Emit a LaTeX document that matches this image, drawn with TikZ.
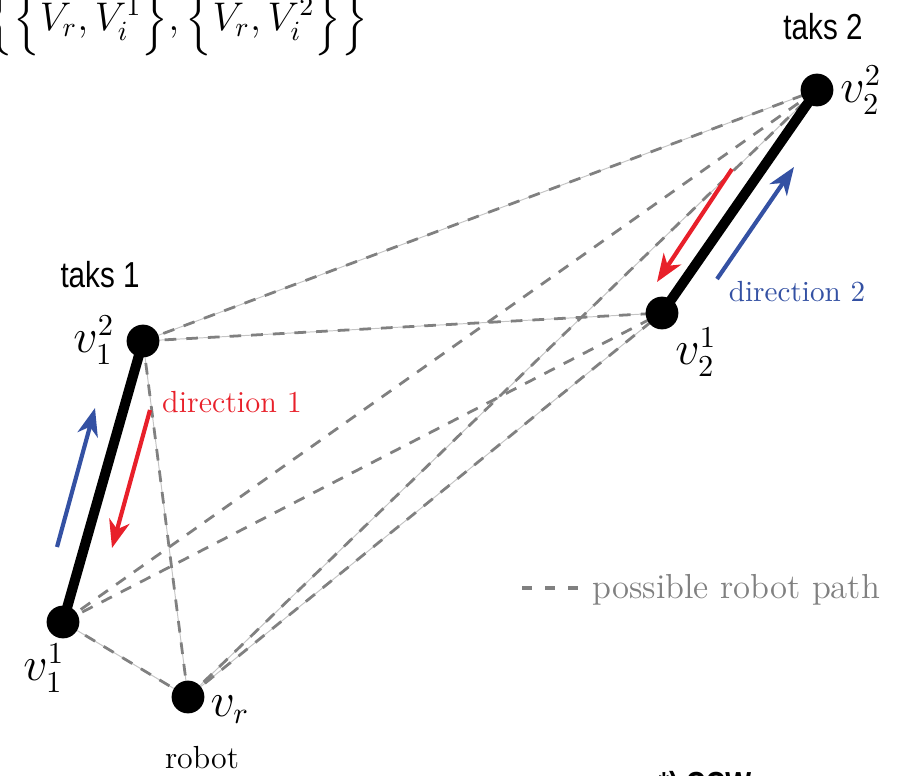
\documentclass[tikz,border=0pt]{standalone}
\usepackage{fontspec}
\usepackage{amsmath}
\usetikzlibrary{arrows.meta,backgrounds}
\newfontfamily\condfont[FakeStretch=0.82]{Liberation Sans}
\definecolor{dirred}{HTML}{E8202A}
\definecolor{dirblue}{HTML}{3451A3}
\definecolor{pathgray}{HTML}{808080}
\definecolor{thingray}{HTML}{C4C4C4}
\tikzset{
  vtx/.style={circle,fill=black,inner sep=0pt,minimum size=11.8pt},
  vlabel/.style={inner sep=0pt,font=\fontsize{16}{18}\selectfont},
  tasklabel/.style={inner sep=0pt,font=\condfont\fontsize{13}{15}\selectfont},
  taskbar/.style={line width=3.6pt,black},
  thinline/.style={thingray,line width=0.35pt},
  dashline/.style={pathgray,line width=1pt,dash pattern=on 4.2pt off 3.6pt},
  dirarrow/.style={line width=1.5pt,-{Stealth[length=10pt,width=7.5pt,inset=3pt]}},
}
\begin{document}
\begin{tikzpicture}[x=0.36pt,y=-0.36pt]
\useasboundingbox (0,0) rectangle (903,776);
% vertices
\node[vtx] (v22) at (817,90) {};
\node[vtx] (v21) at (662,313) {};
\node[vtx] (v12) at (143,341) {};
\node[vtx] (v11) at (63,622) {};
\node[vtx] (vr) at (188,697) {};
% connectors behind the vertices
\begin{pgfonlayer}{background}
  \foreach \a/\b in {vr/v11, vr/v12, vr/v21, vr/v22, v12/v21, v12/v22} {
    \draw[thinline] (\a.center) -- (\b.center);
    \draw[dashline] (\a.center) -- (\b.center);
  }
  \foreach \a/\b in {v11/v21, v11/v22} {
    \draw[dashline] (\a.center) -- (\b.center);
  }
  \draw[taskbar] (v11.center) -- (v12.center);
  \draw[taskbar] (v21.center) -- (v22.center);
\end{pgfonlayer}
% vertex labels
\node[vlabel] (l22) at (861,90) {$v_2^2$};
\node[vlabel] (l21) at (696,352) {$v_2^1$};
\node[vlabel] (l12) at (94,340) {$v_1^2$};
\node[vlabel] (l11) at (44,668) {$v_1^1$};
\node[vlabel] (lr) at (230,710) {$v_r$};
\node[inner sep=0pt,font=\fontsize{11.5}{13}\selectfont,anchor=base] (robot) at (202,768) {robot};
% task labels
\node[tasklabel] (t1) at (100,275) {taks 1};
\node[tasklabel] (t2) at (823,27) {taks 2};
% direction arrows
\coordinate (b1s) at (57,547); \coordinate (b1e) at (95,408);
\coordinate (r1s) at (150,410); \coordinate (r1e) at (112,548);
\coordinate (r2s) at (732,169); \coordinate (r2e) at (657,282);
\coordinate (b2s) at (717,279); \coordinate (b2e) at (794,167);
\draw[dirarrow,dirblue] (b1s) -- (b1e);
\draw[dirarrow,dirred] (r1s) -- (r1e);
\draw[dirarrow,dirred] (r2s) -- (r2e);
\draw[dirarrow,dirblue] (b2s) -- (b2e);
\node[inner sep=0pt,text=dirred,font=\fontsize{11}{13}\selectfont] (d1) at (232,402) {direction 1};
\node[inner sep=0pt,text=dirblue,font=\fontsize{10.5}{12}\selectfont] (d2) at (797,292) {direction 2};
% legend
\coordinate (lg1) at (522,588); \coordinate (lg2) at (578,588);
\draw[pathgray,line width=1.1pt,dash pattern=on 3.6pt off 4.7pt] (lg1) -- (lg2);
\node[inner sep=0pt,text=pathgray,font=\fontsize{12.5}{14}\selectfont,anchor=west] (lgt) at (592,590) {possible robot path};
% formula top left
\node[inner sep=0pt,anchor=west,font=\fontsize{14.5}{16}\selectfont] (formula) at (-14,20)
  {$\Bigl\{\Bigl\{V_r, V_i^1\Bigr\}, \Bigl\{V_r, V_i^2\Bigr\}\Bigr\}$};
% footnote (cut at the bottom)
\node[inner sep=0pt,anchor=north west,font=\condfont\bfseries\fontsize{12}{14}\selectfont] (ccw) at (658,771) {*) CCW};
\end{tikzpicture}
\end{document}
